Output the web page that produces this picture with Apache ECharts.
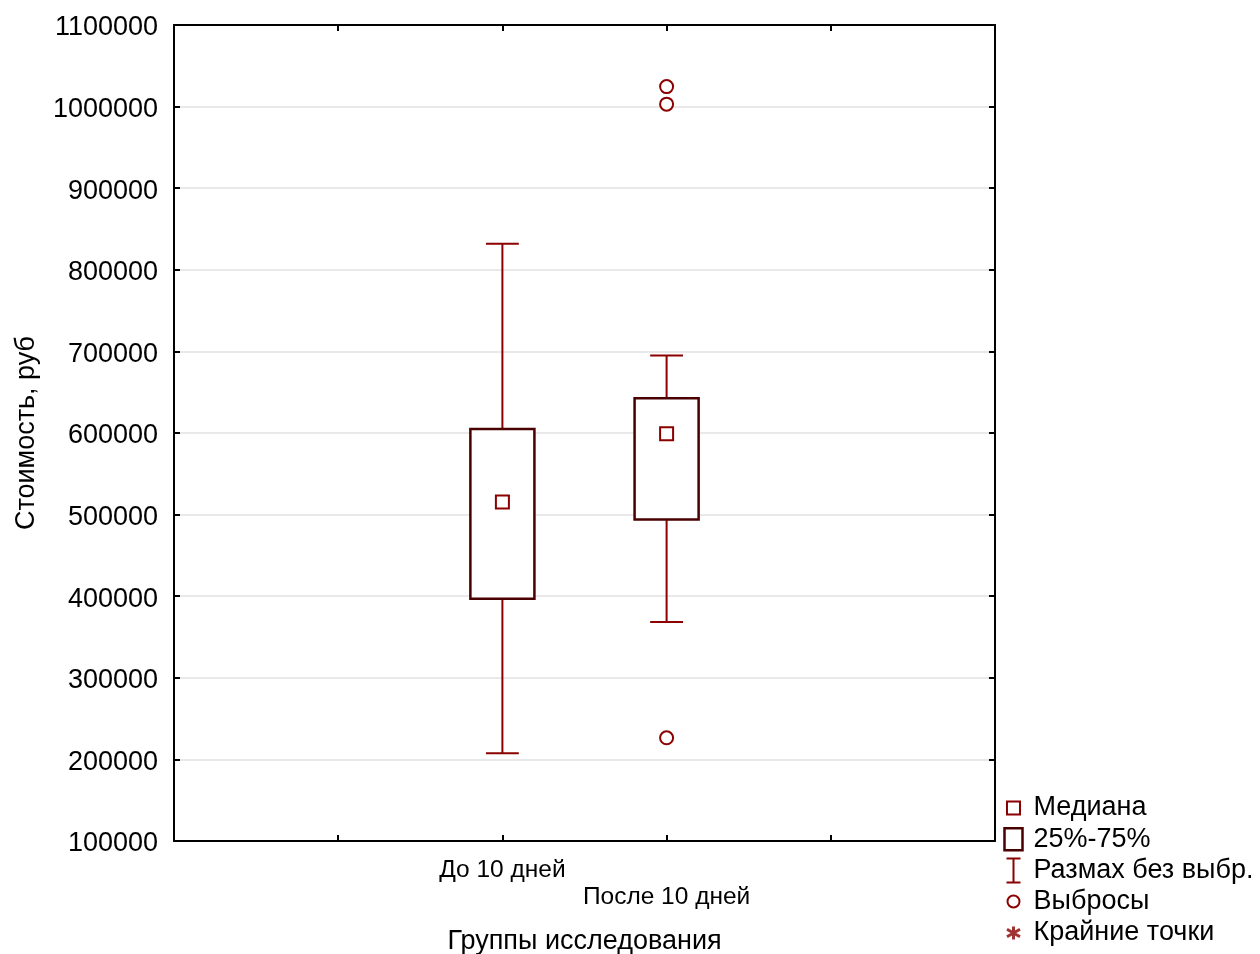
<!DOCTYPE html>
<html>
<head>
<meta charset="utf-8">
<script src="https://cdn.jsdelivr.net/npm/echarts@6/dist/echarts.min.js"></script>
<style>
html,body{margin:0;padding:0;background:#fff;}
#chart{width:1260px;height:954px;}
</style>
</head>
<body>
<div id="chart"></div>
<script>
// ---- data ----
const groups = ['До 10 дней', 'После 10 дней'];
const q1 = [397000, 494000];
const q3 = [605000, 642500];
const medians = [515500, 599000];
const whiskerLow = [207500, 368500];
const whiskerHigh = [832000, 695000];
const outlierGroups = ['После 10 дней', 'После 10 дней', 'После 10 дней'];
const outlierValues = [1024500, 1003000, 226500];
const extremeGroups = [];
const extremeValues = [];
const yTicks = { min: 100000, max: 1100000, step: 100000 };
const legendNames = ['Медиана', '25%-75%', 'Размах без выбр.', 'Выбросы', 'Крайние точки'];
const xTitle = 'Группы исследования';
const yTitle = 'Стоимость, руб';

// ---- build ----
const axisSlots = ['', ''].concat(groups, ['', '']);
const FONT = '"Liberation Sans", Arial, sans-serif';
const DARK = '#4a0000';
const RED = '#8b0000';

const boxData = groups.map((g, i) => [g, q1[i], q3[i]]);
const whiskerData = groups.map((g, i) => [g, whiskerLow[i], q1[i], q3[i], whiskerHigh[i]]);
const medianData = groups.map((g, i) => [g, medians[i]]);
const outlierData = outlierGroups.map((g, i) => [g, outlierValues[i]]);
const extremeData = extremeGroups.map((g, i) => [g, extremeValues[i]]);

function renderBox(params, api) {
  const x = api.value(0);
  const top = api.coord([x, api.value(2)]);
  const bot = api.coord([x, api.value(1)]);
  const w = api.size([1, 0])[0] * 0.39;
  return {
    type: 'rect',
    shape: { x: top[0] - w / 2, y: top[1], width: w, height: bot[1] - top[1] },
    style: { fill: '#fff', stroke: DARK, lineWidth: 2.5 }
  };
}
function renderWhisker(params, api) {
  const x = api.value(0);
  const lo = api.coord([x, api.value(1)]);
  const b1 = api.coord([x, api.value(2)]);
  const b3 = api.coord([x, api.value(3)]);
  const hi = api.coord([x, api.value(4)]);
  const c = api.size([1, 0])[0] * 0.1;
  const st = { stroke: RED, lineWidth: 2, fill: null };
  return {
    type: 'group',
    children: [
      { type: 'line', shape: { x1: hi[0], y1: hi[1], x2: b3[0], y2: b3[1] }, style: st },
      { type: 'line', shape: { x1: hi[0] - c, y1: hi[1], x2: hi[0] + c, y2: hi[1] }, style: st },
      { type: 'line', shape: { x1: lo[0], y1: lo[1], x2: b1[0], y2: b1[1] }, style: st },
      { type: 'line', shape: { x1: lo[0] - c, y1: lo[1], x2: lo[0] + c, y2: lo[1] }, style: st }
    ]
  };
}

const ANCH = 'M0,0 M26,26 ';
const icons = {
  median: 'path://' + ANCH + 'M4.5,6.5 L17.5,6.5 L17.5,19.5 L4.5,19.5 Z',
  box: 'path://' + ANCH + 'M2,2 L20,2 L20,24 L2,24 Z',
  whisker: 'path://' + ANCH + 'M4,1 L18,1 M11,1 L11,25 M4,25 L18,25',
  outlier: 'path://' + ANCH + 'M17,13 A6,6 0 1,1 5,13 A6,6 0 1,1 17,13 Z',
  extreme: 'path://' + ANCH + 'M11,6.5 L11,19.5 M4.5,9.2 L17.5,16.8 M4.5,16.8 L17.5,9.2'
};
const NONE = 'rgba(0,0,0,0)';

const option = {
  animation: false,
  backgroundColor: '#fff',
  textStyle: { fontFamily: FONT },
  grid: { left: 174, right: 265, top: 25, bottom: 113, containLabel: false, outerBoundsMode: 'none' },
  legend: {
    orient: 'vertical',
    left: 1001,
    top: 794,
    height: 160,
    padding: 0,
    itemWidth: 26,
    itemHeight: 26,
    itemGap: 3,
    selectedMode: false,
    textStyle: { fontSize: 27, color: '#000', fontFamily: FONT },
    data: [
      { name: legendNames[0], icon: icons.median, itemStyle: { color: '#fff', borderColor: RED, borderWidth: 2 } },
      { name: legendNames[1], icon: icons.box, itemStyle: { color: '#fff', borderColor: DARK, borderWidth: 2.5 } },
      { name: legendNames[2], icon: icons.whisker, itemStyle: { color: NONE, borderColor: RED, borderWidth: 2 } },
      { name: legendNames[3], icon: icons.outlier, itemStyle: { color: '#fff', borderColor: RED, borderWidth: 2 } },
      { name: legendNames[4], icon: icons.extreme, itemStyle: { color: NONE, borderColor: RED, borderWidth: 3 } }
    ]
  },
  xAxis: [
    {
      type: 'category',
      data: axisSlots,
      boundaryGap: false,
      position: 'bottom',
      name: xTitle,
      nameLocation: 'middle',
      nameGap: 87,
      nameTextStyle: { fontSize: 27, color: '#000', fontFamily: FONT },
      axisLine: { lineStyle: { color: '#000', width: 2 } },
      axisTick: { inside: true, length: 6, lineStyle: { color: '#000', width: 2 } },
      axisLabel: {
        interval: 0,
        fontSize: 24.5,
        color: '#000',
        margin: 16,
        lineHeight: 27,
        formatter: function (v) {
          const k = groups.indexOf(v);
          if (k < 0) return '';
          return k % 2 === 1 ? '\n' + v : v;
        }
      },
      splitLine: { show: false }
    },
    {
      type: 'category',
      data: axisSlots,
      boundaryGap: false,
      position: 'top',
      axisLine: { lineStyle: { color: '#000', width: 2 } },
      axisTick: { inside: true, length: 6, lineStyle: { color: '#000', width: 2 } },
      axisLabel: { show: false },
      splitLine: { show: false }
    }
  ],
  yAxis: [
    {
      type: 'value',
      min: yTicks.min,
      max: yTicks.max,
      interval: yTicks.step,
      position: 'left',
      name: yTitle,
      nameLocation: 'middle',
      nameRotate: 90,
      nameGap: 134,
      nameTextStyle: { fontSize: 27, color: '#000', fontFamily: FONT },
      axisLine: { show: true, lineStyle: { color: '#000', width: 2 } },
      axisTick: { show: true, inside: true, length: 6, lineStyle: { color: '#000', width: 2 } },
      axisLabel: {
        fontSize: 27,
        color: '#000',
        margin: 16,
        formatter: function (v) { return '{n|' + String(v) + '}'; },
        rich: { n: { fontSize: 27, color: '#000', fontFamily: FONT, padding: [6, 0, 0, 0] } }
      },
      splitLine: { show: true, lineStyle: { color: '#e2e2e2', width: 1.5 } }
    },
    {
      type: 'value',
      min: yTicks.min,
      max: yTicks.max,
      interval: yTicks.step,
      position: 'right',
      axisLine: { show: true, lineStyle: { color: '#000', width: 2 } },
      axisTick: { show: true, inside: true, length: 6, lineStyle: { color: '#000', width: 2 } },
      axisLabel: { show: false },
      splitLine: { show: false }
    }
  ],
  series: [
    {
      name: legendNames[2],
      type: 'custom',
      renderItem: renderWhisker,
      data: whiskerData,
      encode: { x: 0, y: [1, 2, 3, 4] },
      itemStyle: { color: RED },
      z: 2
    },
    {
      name: legendNames[1],
      type: 'custom',
      renderItem: renderBox,
      data: boxData,
      encode: { x: 0, y: [1, 2] },
      itemStyle: { color: DARK },
      z: 3
    },
    {
      name: legendNames[0],
      type: 'scatter',
      data: medianData,
      symbol: 'rect',
      symbolSize: 13,
      itemStyle: { color: '#fff', borderColor: RED, borderWidth: 2, opacity: 1 },
      z: 4
    },
    {
      name: legendNames[3],
      type: 'scatter',
      data: outlierData,
      symbol: 'circle',
      symbolSize: 13,
      itemStyle: { color: '#fff', borderColor: RED, borderWidth: 2, opacity: 1 },
      z: 4
    },
    {
      name: legendNames[4],
      type: 'scatter',
      data: extremeData,
      symbol: icons.extreme,
      symbolSize: 13,
      itemStyle: { color: NONE, borderColor: RED, borderWidth: 2 },
      z: 4
    }
  ]
};

const chart = echarts.init(document.getElementById('chart'), null, { renderer: 'canvas' });
chart.setOption(option);
</script>
</body>
</html>
